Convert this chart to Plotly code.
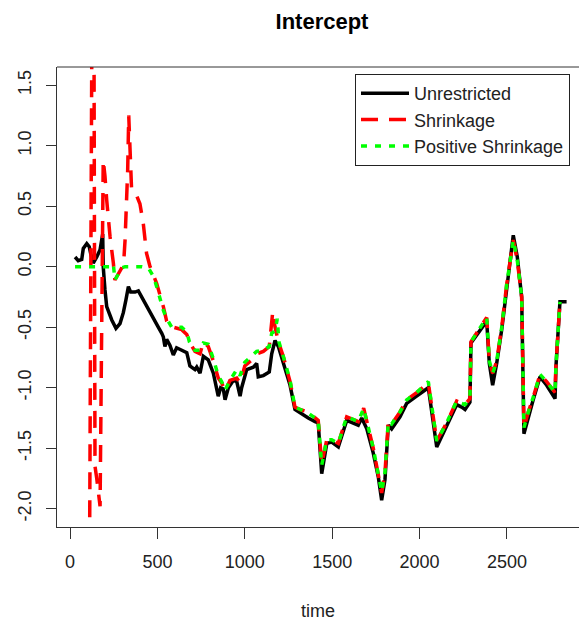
import plotly.graph_objects as go

# ---- data ----
time_unrestricted = [29, 47, 67, 76, 96, 110, 118, 133, 153, 172, 187, 190, 200, 210, 239, 263, 286, 305,
                     320, 334, 347, 372, 391, 419, 448, 477, 505, 525, 534, 543, 553, 572, 591, 610, 639,
                     668, 686, 715, 725, 744, 763, 791, 820, 839, 848, 862, 877, 887, 906, 934, 954, 973,
                     982, 1011, 1049, 1068, 1077, 1106, 1140, 1154, 1173, 1192, 1220, 1259, 1287, 1316,
                     1363, 1402, 1420, 1440, 1469, 1497, 1535, 1583, 1649, 1669, 1698, 1735, 1764, 1783,
                     1802, 1821, 1840, 1888, 1926, 1983, 2050, 2098, 2155, 2212, 2241, 2260, 2288, 2294,
                     2384, 2399, 2418, 2441, 2470, 2498, 2536, 2559, 2584, 2597, 2622, 2650, 2689, 2727,
                     2775, 2780, 2803, 2841]
unrestricted = [0.08, 0.05, 0.06, 0.15, 0.19, 0.165, 0.11, 0.03, 0.08, 0.14, 0.27, 0.00, -0.19, -0.33,
                -0.44, -0.51, -0.47, -0.38, -0.275, -0.165, -0.21, -0.21, -0.20, -0.275, -0.36, -0.44,
                -0.50, -0.55, -0.58, -0.66, -0.60, -0.65, -0.73, -0.67, -0.69, -0.71, -0.82, -0.85, -0.83,
                -0.88, -0.74, -0.77, -0.88, -0.99, -1.07, -1.00, -1.01, -1.10, -1.00, -0.94, -0.95, -1.07,
                -1.00, -0.85, -0.83, -0.80, -0.91, -0.90, -0.87, -0.72, -0.61, -0.66, -0.80, -0.98, -1.18,
                -1.21, -1.25, -1.28, -1.29, -1.71, -1.46, -1.45, -1.49, -1.27, -1.31, -1.25, -1.34, -1.54,
                -1.74, -1.93, -1.76, -1.31, -1.34, -1.24, -1.13, -1.07, -1.00, -1.49, -1.32, -1.14, -1.16,
                -1.18, -1.12, -0.63, -0.45, -0.80, -0.98, -0.80, -0.52, -0.165, 0.26, 0.08, -0.25, -1.38,
                -1.24, -1.10, -0.91, -0.98, -1.09, -0.83, -0.29, -0.29]

time_shrinkage = [29, 67, 96, 110, 133, 143, 153, 162, 172, 190, 200, 210, 219, 229, 248, 257, 296, 309,
                  315, 330, 336, 352, 372, 400, 419, 438, 458, 496, 534, 553, 572, 591, 639, 668, 686,
                  715, 744, 763, 791, 820, 848, 868, 887, 915, 954, 973, 1000, 1049, 1068, 1106, 1140,
                  1160, 1173, 1192, 1220, 1259, 1287, 1316, 1363, 1402, 1420, 1440, 1469, 1497, 1535,
                  1583, 1649, 1680, 1735, 1764, 1783, 1802, 1821, 1840, 1888, 1926, 1983, 2050, 2098,
                  2155, 2212, 2241, 2260, 2288, 2294, 2384, 2399, 2418, 2441, 2470, 2498, 2536, 2559,
                  2584, 2597, 2622, 2650, 2689, 2727, 2775, 2780, 2803]
shrinkage = [-6.0, -5.5, -4.5, -3.0, 4.5, -1.65, -1.75, -1.87, -1.98, 0.88, 0.75, 0.55, 0.40, 0.25, 0.03,
             -0.11, -0.01, 0.08, 0.22, 0.80, 1.25, 0.65, 0.62, 0.52, 0.36, 0.11, 0.00, -0.14, -0.33,
             -0.45, -0.50, -0.50, -0.52, -0.56, -0.63, -0.70, -0.72, -0.62, -0.66, -0.78, -0.92, -0.96,
             -1.03, -0.94, -0.92, -0.96, -0.82, -0.76, -0.72, -0.70, -0.66, -0.37, -0.50, -0.62, -0.74,
             -0.95, -1.16, -1.18, -1.20, -1.25, -1.27, -1.63, -1.43, -1.43, -1.46, -1.24, -1.28, -1.17,
             -1.50, -1.72, -1.87, -1.70, -1.28, -1.30, -1.20, -1.10, -1.04, -0.96, -1.44, -1.29, -1.11,
             -1.13, -1.14, -1.09, -0.62, -0.42, -0.78, -0.88, -0.78, -0.50, -0.15, 0.22, 0.05, -0.25,
             -1.33, -1.20, -1.08, -0.89, -0.95, -1.04, -0.82, -0.29]

time_positive = [29, 96, 133, 172, 210, 239, 248, 257, 296, 315, 350, 410, 448, 477, 496, 515, 534, 553,
                 582, 639, 668, 683, 715, 744, 763, 791, 820, 848, 868, 887, 915, 954, 973, 1000, 1049,
                 1068, 1106, 1140, 1154, 1173, 1186, 1195, 1220, 1259, 1287, 1316, 1363, 1402, 1420,
                 1440, 1469, 1497, 1535, 1583, 1649, 1680, 1735, 1764, 1783, 1802, 1821, 1840, 1888,
                 1926, 1983, 2050, 2098, 2155, 2212, 2241, 2260, 2288, 2294, 2384, 2399, 2418, 2441,
                 2470, 2498, 2536, 2559, 2584, 2597, 2622, 2650, 2689, 2727, 2775, 2780, 2803]
positive_shrinkage = [0.0, 0.0, 0.0, 0.0, 0.0, 0.0, 0.02, -0.11, -0.01, 0.0, 0.0, 0.0, -0.01, -0.08,
                      -0.165, -0.27, -0.36, -0.43, -0.50, -0.50, -0.54, -0.62, -0.69, -0.69, -0.63, -0.64,
                      -0.76, -0.90, -0.95, -1.02, -0.94, -0.85, -0.90, -0.79, -0.72, -0.70, -0.69, -0.66,
                      -0.55, -0.53, -0.43, -0.62, -0.74, -0.94, -1.16, -1.18, -1.21, -1.25, -1.27, -1.64,
                      -1.43, -1.43, -1.46, -1.24, -1.28, -1.17, -1.50, -1.72, -1.86, -1.70, -1.28, -1.30,
                      -1.20, -1.10, -1.04, -0.95, -1.44, -1.29, -1.11, -1.13, -1.14, -1.09, -0.62, -0.42,
                      -0.78, -0.88, -0.78, -0.50, -0.15, 0.22, 0.05, -0.25, -1.33, -1.20, -1.08, -0.89,
                      -0.95, -1.04, -0.82, -0.29]

x_ticks = [0, 500, 1000, 1500, 2000, 2500]
y_ticks = [-2.0, -1.5, -1.0, -0.5, 0.0, 0.5, 1.0, 1.5]
y_tick_labels = ["-2.0", "-1.5", "-1.0", "-0.5", "0.0", "0.5", "1.0", "1.5"]

FONT = "Liberation Sans, Arial, sans-serif"
AX = "#333333"

fig = go.Figure()
fig.add_trace(go.Scatter(x=time_unrestricted, y=unrestricted, mode="lines", name="Unrestricted",
                         line=dict(color="#000000", width=3.5)))
fig.add_trace(go.Scatter(x=time_shrinkage, y=shrinkage, mode="lines", name="Shrinkage",
                         line=dict(color="#FF0000", width=3.5, dash="17px,11px")))
fig.add_trace(go.Scatter(x=time_positive, y=positive_shrinkage, mode="lines", name="Positive Shrinkage",
                         line=dict(color="#00FF00", width=3.5, dash="6px,8px")))

fig.update_layout(
    width=579, height=621,
    margin=dict(l=57, r=0, t=67, b=94),
    paper_bgcolor="white", plot_bgcolor="white",
    font=dict(family=FONT, size=18, color="#222222"),
    title=dict(text="<b>Intercept</b>", font=dict(family=FONT, size=22, color="#000000"),
               x=322 / 579, xref="container", xanchor="center",
               y=1 - 21 / 621, yref="container", yanchor="middle", automargin=False),
    showlegend=True,
    legend=dict(x=(355 - 57) / 522, xanchor="left", y=(527 - 74) / 460, yanchor="top",
                bgcolor="white", bordercolor="#222222", borderwidth=1,
                font=dict(family=FONT, size=18, color="#222222"),
                tracegroupgap=0, itemwidth=48),
    xaxis=dict(range=[-74.4, 2912], tickvals=x_ticks, ticks="outside", ticklen=11,
               tickwidth=1, tickcolor=AX, showline=True, linecolor=AX, linewidth=1,
               showgrid=False, zeroline=False, tickfont=dict(size=18), automargin=False,
               ticklabelstandoff=7,
               title=dict(text="time", font=dict(size=18), standoff=38)),
    yaxis=dict(range=[-2.151, 1.650], tickvals=y_ticks, ticktext=y_tick_labels, tickangle=-90,
               ticks="outside", ticklen=10, tickwidth=1, tickcolor=AX, showline=True,
               linecolor=AX, linewidth=1, showgrid=False, zeroline=False, tickfont=dict(size=18),
               automargin=False, ticklabelstandoff=8),
    shapes=[dict(type="line", xref="paper", yref="paper", x0=0, x1=1, y0=1, y1=1,
                 line=dict(color=AX, width=1))],
)

fig.write_html("out.html", config={"displayModeBar": False},
               post_script="document.body.style.margin='0';")
